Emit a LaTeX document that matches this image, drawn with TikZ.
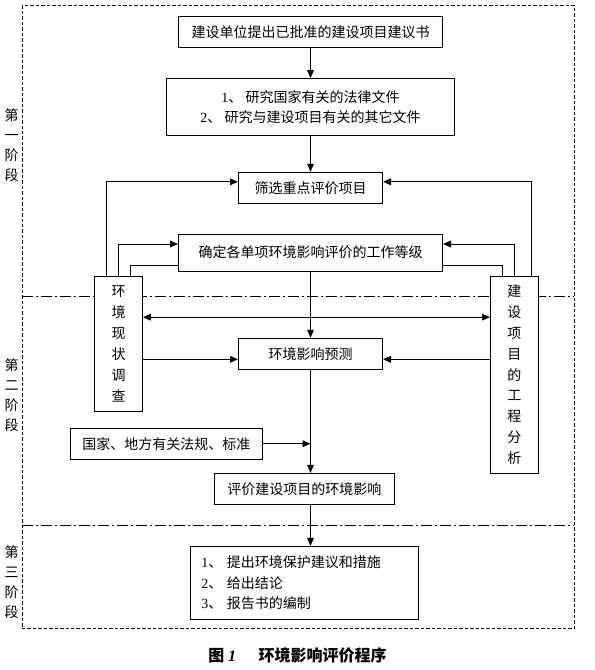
\documentclass[tikz,border=0pt]{standalone}
\usepackage{fontspec}
\setmainfont{Noto Sans CJK SC}
\newfontfamily\latinserif{Liberation Serif}
\newcommand{\serifnum}[1]{{\latinserif #1}}
\usetikzlibrary{arrows.meta,calc}

\begin{document}
\begin{tikzpicture}[x=0.75pt,y=0.75pt,yscale=-1,xscale=1,
  >={Triangle[length=6pt,width=5pt]},
  box/.style={draw, fill=white, line width=0.75, inner sep=0pt, align=center, font=\fontsize{10.5pt}{15pt}\selectfont},
  arr/.style={->, line width=0.75},
  frame/.style={line width=0.75, dash pattern=on 2.6pt off 1.5pt},
  stageline/.style={line width=0.75, dash pattern=on 8.25pt off 2.25pt on 1.5pt off 2.25pt},
  stage/.style={align=center, inner sep=0pt, font=\fontsize{10.5pt}{15pt}\selectfont}]
\useasboundingbox (0,0) rectangle (594,670);

%Shape: Frame and stage lines
\draw[frame] (22,5.3) rectangle (574.3,628.7);
\draw[stageline] (22,296.3) -- (574.3,296.3);
\draw[stageline] (22,525) -- (574.3,525);

%Shape: Rectangle
\node[box, minimum width=198pt, minimum height=22.7pt] (proposal) at (310.5,31.9) {建设单位提出已批准的建设项目建议书};
%Shape: Rectangle
\node[box, minimum width=215.7pt, minimum height=43pt] (study) at (310.5,107.3) {\serifnum{1}、 研究国家有关的法律文件\\\serifnum{2}、 研究与建设项目有关的其它文件};
%Shape: Rectangle
\node[box, minimum width=108pt, minimum height=23.25pt] (screen) at (310.5,187.8) {筛选重点评价项目};
%Shape: Rectangle
\node[box, minimum width=198pt, minimum height=27.75pt] (grade) at (310.5,252.5) {确定各单项环境影响评价的工作等级};
%Shape: Rectangle
\node[box, minimum width=35.7pt, minimum height=101pt, font=\fontsize{10.5pt}{15.7pt}\selectfont] (survey) at (118.5,343.7) {环\\境\\现\\状\\调\\查};
%Shape: Rectangle
\node[box, minimum width=35.85pt, minimum height=147.75pt, font=\fontsize{10.5pt}{15.6pt}\selectfont] (analysis) at (514.4,374.8) {建\\设\\项\\目\\的\\工\\程\\分\\析};
%Shape: Rectangle
\node[box, minimum width=108pt, minimum height=23.25pt] (predict) at (310.5,353.8) {环境影响预测};
%Shape: Rectangle
\node[box, minimum width=144pt, minimum height=23pt] (laws) at (166.3,443.7) {国家、地方有关法规、标准};
%Shape: Rectangle
\node[box, minimum width=135pt, minimum height=23pt] (assess) at (304.3,488.7) {评价建设项目的环境影响};
%Shape: Rectangle
\node[box, minimum width=171pt, minimum height=54.5pt, text width=154.5pt, align=left, font=\fontsize{10.5pt}{15.4pt}\selectfont] (measures) at (304.3,582.7) {\serifnum{1}、 提出环境保护建议和措施\\\serifnum{2}、 给出结论\\\serifnum{3}、 报告书的编制};

%Straight Lines
\draw[arr] (proposal.south) -- (study.north);
\draw[arr] (study.south) -- (screen.north);
\draw[arr] (grade.south) -- (predict.north);
\draw[arr] (predict.south) -- (predict.south |- assess.north);
\draw[arr] (laws.east) -- (laws.east -| predict.south);
\draw[arr] (assess.south -| predict.south) -- (measures.north -| predict.south);

%Straight Lines: survey side
\coordinate (screenL) at ($(screen.west)+(0,-6)$);
\coordinate (gradeL) at ($(grade.west)+(0,-8.5)$);
\coordinate (gradeLo) at ($(grade.west)+(0,13)$);
\draw[arr] ($(survey.north)+(-12.2,0)$) |- (screenL);
\draw[arr] (survey.north) |- (gradeL);
\draw (gradeLo) -| ($(survey.north)+(11.8,0)$);

%Straight Lines: analysis side
\coordinate (screenR) at ($(screen.east)+(0,-6)$);
\coordinate (gradeR) at ($(grade.east)+(0,-8.5)$);
\coordinate (gradeRo) at ($(grade.east)+(0,13)$);
\draw[arr] ($(analysis.north)+(17.3,0)$) |- (screenR);
\draw[arr] (analysis.north) |- (gradeR);
\draw (gradeRo) -| ($(analysis.north)+(-11.7,0)$);

%Straight Lines: into prediction
\coordinate (link) at ($(survey.east)+(0,-26.5)$);
\draw[<->, line width=0.75] (link) -- (link -| analysis.west);
\coordinate (predictL) at ($(predict.west)+(0,5.5)$);
\coordinate (predictR) at ($(predict.east)+(0,5.5)$);
\draw[arr] (predictL -| survey.east) -- (predictL);
\draw[arr] (predictR -| analysis.west) -- (predictR);

% Text Node
\node[stage] (stage1) at (11.7,145) {第\\一\\阶\\段};
% Text Node
\node[stage] (stage2) at (11.7,395) {第\\二\\阶\\段};
% Text Node
\node[stage] (stage3) at (11.7,582.5) {第\\三\\阶\\段};
% Text Node
\node[inner sep=0pt, font=\fontsize{12pt}{14pt}\selectfont\bfseries] (caption) at (297.5,655) {图 {\latinserif\bfseries\itshape 1}\hspace{17pt}环境影响评价程序};
\end{tikzpicture}
\end{document}
